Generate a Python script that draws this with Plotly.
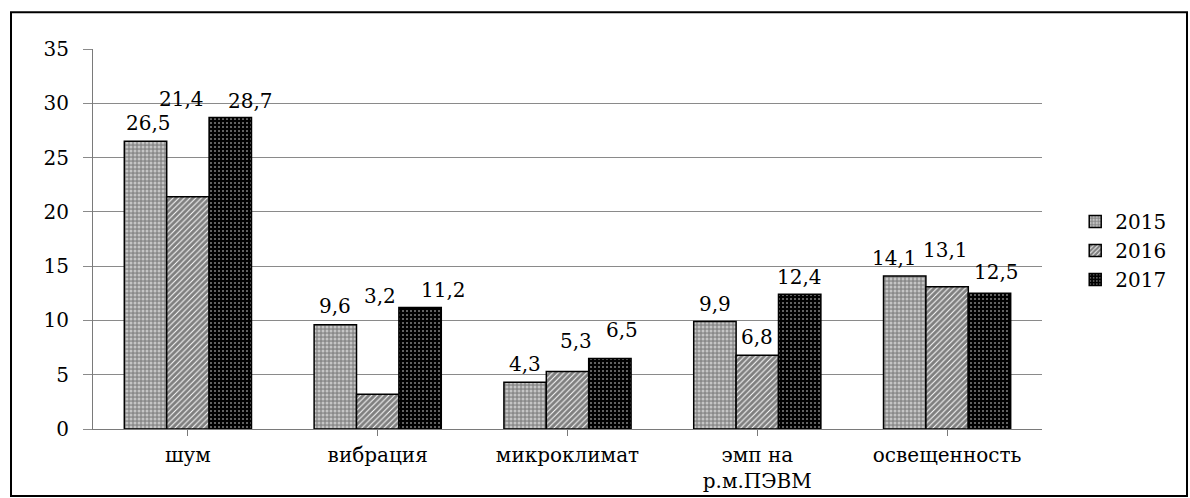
import plotly.graph_objects as go

# Categories and yearly values
categories = ["шум", "вибрация", "микроклимат", "эмп на<br>р.м.ПЭВМ", "освещенность"]
years = ["2015", "2016", "2017"]
v2015 = [26.5, 9.6, 4.3, 9.9, 14.1]
v2016 = [21.4, 3.2, 5.3, 6.8, 13.1]
v2017 = [28.7, 11.2, 6.5, 12.4, 12.5]

# Heights (in axis units) where the value labels sit, and their horizontal nudges (px)
label_y = [
    [28.16, 11.32, 5.98, 11.5, 15.74],
    [30.37, 12.24, 8.1, 8.47, 16.47],
    [30.2, 12.79, 9.1, 14.0, 14.45],
]
label_dx = [
    [3, 0, 0, 0, -10],
    [-6, 2, 8, 0, -2],
    [20, 23, 12, 0, 7],
]

FONT = "DejaVu Serif"
FS = 20
BARGAP = 0.33

patterns = [
    dict(shape=".", bgcolor="#8a8a8a", fgcolor="white", size=4, solidity=0.45),
    dict(shape="/", bgcolor="white", fgcolor="black", size=4, solidity=0.75),
    dict(shape=".", bgcolor="black", fgcolor="white", size=4, solidity=0.2),
]

series = [v2015, v2016, v2017]

fig = go.Figure()
for name, vals, pat in zip(years, series, patterns):
    fig.add_trace(go.Bar(
        name=name,
        x=list(range(len(categories))),
        y=vals,
        marker=dict(color=pat["bgcolor"], pattern=pat,
                    line=dict(color="black", width=1.5)),
    ))

# Value labels
bw = (1 - BARGAP) / len(series)
for j, vals in enumerate(series):
    for i, v in enumerate(vals):
        fig.add_annotation(
            x=i + (j - 1) * bw, y=label_y[j][i], xref="x", yref="y",
            text=f"{v:.1f}".replace(".", ","), showarrow=False,
            xshift=label_dx[j][i],
            font=dict(family=FONT, size=FS, color="black"),
        )

# Outer frame
fig.add_shape(type="rect", xref="paper", yref="paper",
              x0=-0.0864, x1=1.1528, y0=-0.176, y1=1.0965,
              line=dict(color="black", width=2), layer="above")

fig.update_layout(
    width=1190, height=498,
    margin=dict(l=93, r=148, t=49, b=69, autoexpand=False),
    paper_bgcolor="white", plot_bgcolor="white",
    barmode="group", bargap=BARGAP, bargroupgap=0,
    font=dict(family=FONT, size=FS, color="black"),
    legend=dict(x=1.035, y=0.47, xanchor="left", yanchor="middle",
                font=dict(family=FONT, size=FS), itemwidth=30,
                tracegroupgap=0),
    showlegend=True,
)
fig.update_xaxes(
    tickmode="array", tickvals=list(range(len(categories))), ticktext=categories,
    range=[-0.5, len(categories) - 0.5], automargin=False,
    showline=True, linecolor="#7a7a7a", linewidth=1,
    ticks="outside", ticklen=6, tickcolor="#7a7a7a",
    showgrid=False, zeroline=False,
    ticklabelstandoff=2,
    tickfont=dict(family=FONT, size=FS),
)
fig.update_xaxes(tickson="boundaries")
fig.update_yaxes(
    range=[0, 35], dtick=5, showgrid=True, gridcolor="#8a8a8a", gridwidth=1,
    showline=True, linecolor="#7a7a7a", linewidth=1, automargin=False,
    ticks="outside", ticklen=9, tickcolor="#8a8a8a",
    zeroline=False, ticklabelstandoff=10,
    tickfont=dict(family=FONT, size=FS),
)

fig.write_html("out.html")
